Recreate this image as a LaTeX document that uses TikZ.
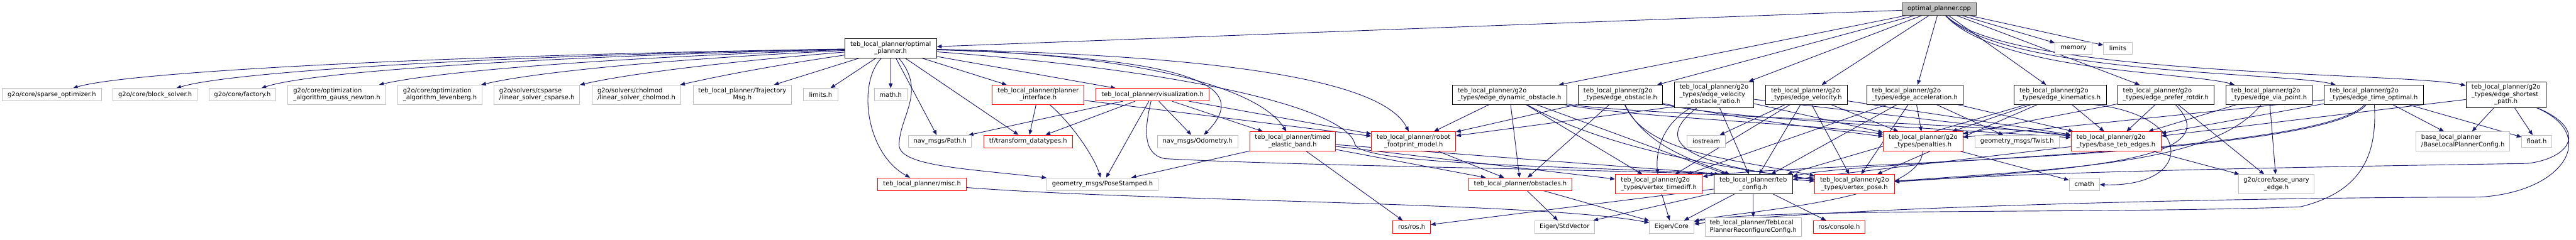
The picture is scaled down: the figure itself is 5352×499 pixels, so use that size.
\documentclass[tikz,border=0pt]{standalone}
\usepackage{fontspec}
\setmainfont{DejaVu Sans}
\usetikzlibrary{arrows.meta,calc}
\pgfdeclarelayer{bg}
\pgfsetlayers{bg,main}
\definecolor{edgec}{HTML}{191970}
\definecolor{grayb}{HTML}{BFBFBF}
\definecolor{redb}{HTML}{FF0000}
\definecolor{rootf}{HTML}{BFBFBF}
\definecolor{rootb}{HTML}{404040}
\newcommand\twol[2]{\begin{tabular}{@{}l@{}}#1\\\multicolumn{1}{@{}c@{}}{#2}\end{tabular}}
\newcommand\thrl[3]{\begin{tabular}{@{}l@{}}#1\\#2\\\multicolumn{1}{@{}c@{}}{#3}\end{tabular}}
\tikzset{
  nd/.style={draw, line width=1.1pt, fill=white, inner sep=0pt, font=\fontsize{13}{15}\selectfont, align=center},
  gn/.style={nd, draw=grayb},
  rn/.style={nd, draw=redb},
  bn/.style={nd, draw=black},
  rootn/.style={nd, draw=rootb, fill=rootf},
  wh/.style 2 args={minimum width=#1pt, minimum height=#2pt},
  e/.style={draw=edgec, line width=1.2pt, -{Triangle[length=10pt,width=8pt]}}
}
\begin{document}
\begin{tikzpicture}[x=1pt,y=-1pt]
\useasboundingbox (0,0) rectangle (5352,499);
% ---------- nodes ----------
\node[rootn, wh={155}{26}] (cpp) at (4029,18.5) {optimal\_planner.cpp};
\node[bn, wh={191}{40}] (oph) at (1850.5,100.5) {\twol{teb\_local\_planner/optimal}{\_planner.h}};
\node[gn, wh={77}{26}] (memory) at (4308,100.5) {memory};
\node[gn, wh={59}{26}] (limits) at (4400,100.5) {limits};
\node[gn, wh={206}{26}] (sparse) at (107.6,197) {g2o/core/sparse\_optimizer.h};
\node[gn, wh={175}{26}] (block) at (322.3,197) {g2o/core/block\_solver.h};
\node[gn, wh={138}{26}] (factory) at (503.7,197) {g2o/core/factory.h};
\node[gn, wh={204}{40}] (gauss) at (699.8,197) {\twol{g2o/core/optimization}{\_algorithm\_gauss\_newton.h}};
\node[gn, wh={176}{40}] (leven) at (914,197) {\twol{g2o/core/optimization}{\_algorithm\_levenberg.h}};
\node[gn, wh={178}{40}] (csparse) at (1115.5,197) {\twol{g2o/solvers/csparse}{/linear\_solver\_csparse.h}};
\node[gn, wh={185}{40}] (cholmod) at (1322.2,197) {\twol{g2o/solvers/cholmod}{/linear\_solver\_cholmod.h}};
\node[gn, wh={205}{40}] (trajmsg) at (1542.3,197) {\twol{teb\_local\_planner/Trajectory}{Msg.h}};
\node[gn, wh={71}{26}] (limitsh) at (1705,197) {limits.h};
\node[gn, wh={68}{26}] (math) at (1850.5,197) {math.h};
\node[rn, wh={191}{40}] (plint) at (2157,197) {\twol{teb\_local\_planner/planner}{\_interface.h}};
\node[rn, wh={236}{26}] (vis) at (2394.5,197) {teb\_local\_planner/visualization.h};
\node[bn, wh={238}{40}] (dynobs) at (3136,197) {\twol{teb\_local\_planner/g2o}{\_types/edge\_dynamic\_obstacle.h}};
\node[bn, wh={175}{40}] (edgeobs) at (3366.5,197) {\twol{teb\_local\_planner/g2o}{\_types/edge\_obstacle.h}};
\node[bn, wh={165}{54}] (velobs) at (3561,197) {\thrl{teb\_local\_planner/g2o}{\_types/edge\_velocity}{\_obstacle\_ratio.h}};
\node[bn, wh={170}{40}] (vel) at (3753,197) {\twol{teb\_local\_planner/g2o}{\_types/edge\_velocity.h}};
\node[bn, wh={200}{40}] (acc) at (3978.3,197) {\twol{teb\_local\_planner/g2o}{\_types/edge\_acceleration.h}};
\node[bn, wh={192}{40}] (kin) at (4280,197) {\twol{teb\_local\_planner/g2o}{\_types/edge\_kinematics.h}};
\node[bn, wh={200}{40}] (rotdir) at (4499.7,197) {\twol{teb\_local\_planner/g2o}{\_types/edge\_prefer\_rotdir.h}};
\node[bn, wh={180}{40}] (via) at (4714.3,197) {\twol{teb\_local\_planner/g2o}{\_types/edge\_via\_point.h}};
\node[bn, wh={206}{40}] (timeopt) at (4931.8,197) {\twol{teb\_local\_planner/g2o}{\_types/edge\_time\_optimal.h}};
\node[bn, wh={166}{54}] (shortest) at (5206.5,197) {\thrl{teb\_local\_planner/g2o}{\_types/edge\_shortest}{\_path.h}};
\node[gn, wh={131}{25}] (path) at (1953,294) {nav\_msgs/Path.h};
\node[rn, wh={184}{26}] (tfdt) at (2136,294) {tf/transform\_datatypes.h};
\node[gn, wh={167}{26}] (odom) at (2488,294) {nav\_msgs/Odometry.h};
\node[rn, wh={178}{40}] (teb) at (2685.4,294) {\twol{teb\_local\_planner/timed}{\_elastic\_band.h}};
\node[rn, wh={175}{40}] (robot) at (2937,294) {\twol{teb\_local\_planner/robot}{\_footprint\_model.h}};
\node[gn, wh={80}{25}] (iostream) at (3545,294) {iostream};
\node[rn, wh={165}{40}] (pen) at (3995.5,294) {\twol{teb\_local\_planner/g2o}{\_types/penalties.h}};
\node[gn, wh={176}{25}] (twist) at (4190.7,294) {geometry\_msgs/Twist.h};
\node[rn, wh={187}{40}] (base) at (4396.2,294) {\twol{teb\_local\_planner/g2o}{\_types/base\_teb\_edges.h}};
\node[gn, wh={195}{40}] (blpc) at (5117,294) {\twol{base\_local\_planner}{/BaseLocalPlannerConfig.h}};
\node[gn, wh={62}{25}] (floath) at (5270.4,294) {float.h};
\node[rn, wh={184}{26}] (misc) at (1915.7,383) {teb\_local\_planner/misc.h};
\node[gn, wh={231}{26}] (pose) at (2290.5,383) {geometry\_msgs/PoseStamped.h};
\node[rn, wh={215}{26}] (obst) at (3158.7,383) {teb\_local\_planner/obstacles.h};
\node[rn, wh={181}{40}] (vtd) at (3446.4,383) {\twol{teb\_local\_planner/g2o}{\_types/vertex\_timediff.h}};
\node[bn, wh={163}{40}] (cfg) at (3642.6,383) {\twol{teb\_local\_planner/teb}{\_config.h}};
\node[rn, wh={165}{40}] (vpose) at (3853,383) {\twol{teb\_local\_planner/g2o}{\_types/vertex\_pose.h}};
\node[gn, wh={63}{26}] (cmath) at (4330.5,383) {cmath};
\node[gn, wh={157}{40}] (unary) at (4729.4,383) {\twol{g2o/core/base\_unary}{\_edge.h}};
\node[rn, wh={78}{26}] (ros) at (2933,472) {ros/ros.h};
\node[gn, wh={124}{26}] (stdvec) at (3250.5,472) {Eigen/StdVector};
\node[gn, wh={92}{26}] (core) at (3473,472) {Eigen/Core};
\node[gn, wh={200}{40}] (reconf) at (3642.5,472) {\twol{teb\_local\_planner/TebLocal}{PlannerReconfigureConfig.h}};
\node[rn, wh={108}{26}] (console) at (3821,472) {ros/console.h};
% ---------- edges ----------
\begin{pgfonlayer}{bg}
\fill[white] (0,0) rectangle (5352,499);
% optimal_planner.cpp
\draw[e] (cpp) -- (oph);
\draw[e] (cpp) -- (memory);
\draw[e] (cpp) -- (limits);
\draw[e] (cpp) -- (dynobs);
\draw[e] (cpp) -- (edgeobs);
\draw[e] (cpp) -- (velobs);
\draw[e] (cpp) -- (vel);
\draw[e] (cpp) -- (acc);
\draw[e] (cpp) -- (kin);
\draw[e] (cpp) -- (rotdir);
\draw[e] (cpp) .. controls (4150,150) and (4550,150) .. (via);
\draw[e] (cpp) .. controls (4160,155) and (4750,150) .. (timeopt);
\draw[e] (cpp) .. controls (4170,160) and (5000,150) .. (shortest);
% optimal_planner.h
\draw[e] (oph) .. controls (900,115) and (260,150) .. (sparse);
\draw[e] (oph) .. controls (1000,116) and (475,150) .. (block);
\draw[e] (oph) .. controls (1100,118) and (640,150) .. (factory);
\draw[e] (oph) .. controls (1250,120) and (900,150) .. (gauss);
\draw[e] (oph) .. controls (1400,122) and (1110,150) .. (leven);
\draw[e] (oph) .. controls (1550,125) and (1320,150) .. (csparse);
\draw[e] (oph) .. controls (1650,130) and (1530,150) .. (cholmod);
\draw[e] (oph) -- (trajmsg);
\draw[e] (oph) -- (limitsh);
\draw[e] (oph) -- (math);
\draw[e] (oph) .. controls (1780,175) and (1800,320) .. (misc);
\draw[e] (oph) .. controls (1925,190) and (1870,240) .. (1868,300) .. controls (1866,345) and (2000,350) .. (pose);
\draw[e] (oph) -- (path);
\draw[e] (oph) -- (tfdt);
\draw[e] (oph) -- (plint);
\draw[e] (oph) -- (vis);
\draw[e] (oph) .. controls (2450,120) and (2610,170) .. (odom);
\draw[e] (oph) .. controls (2400,115) and (2620,190) .. (teb);
\draw[e] (oph) .. controls (2500,115) and (2870,160) .. (robot);
\draw[e] (oph) .. controls (2500,150) and (2800,230) .. (2815,300) .. controls (2830,345) and (3300,345) .. ($(cfg.north west)+(12,0)$);
% planner_interface.h
\draw[e] (plint) -- (tfdt);
\draw[e] (plint) .. controls (2230,260) and (2275,330) .. (pose);
\draw[e] (plint) -- (robot);
% visualization.h
\draw[e] (vis) -- (path);
\draw[e] (vis) -- (tfdt);
\draw[e] (vis) -- (pose);
\draw[e] (vis) -- (odom);
\draw[e] (vis) -- (teb);
\draw[e] (vis) -- (robot);
\draw[e] (vis) .. controls (2380,260) and (2370,320) .. (2420,330) .. controls (2700,345) and (3300,352) .. ($(cfg.north west)+(4,0)$);
% timed_elastic_band.h and others
\draw[e] (teb) -- (ros);
\draw[e] (teb) -- (pose);
\draw[e] (teb) -- (obst);
\draw[e] (teb) -- (vtd);
\draw[e] (teb) -- (vpose);
\draw[e] (robot) -- (obst);
\draw[e] (obst) -- (stdvec);
\draw[e] (obst) -- (core);
\draw[e] (misc) .. controls (2400,420) and (3200,420) .. (core);
\draw[e] (vtd) -- (core);
\draw[e] (cfg) -- (ros);
\draw[e] (cfg) -- (stdvec);
\draw[e] (cfg) -- (core);
\draw[e] (cfg) -- (reconf);
\draw[e] (cfg) -- (console);
\draw[e] (pen) -- (cmath);
\draw[e] (pen) .. controls (3990,420) and (3600,440) .. (core);
\draw[e] (base) -- (cfg);
\draw[e] (base) -- (unary);
% edge_velocity.h
\draw[e] (vel) -- (iostream);
\draw[e] (vel) -- (vtd);
\draw[e] (vel) -- (cfg);
\draw[e] (vel) -- (vpose);
\draw[e] (vel) -- (pen);
\draw[e] (vel) -- (base);
% edge_velocity_obstacle_ratio.h
\draw[e] ($(velobs.south west)+(3,-3)$) -- (robot);
\draw[e] (velobs) .. controls (3450,260) and (3440,320) .. (vtd);
\draw[e] (velobs) .. controls (3440,290) and (3480,340) .. (vpose);
\draw[e] (velobs) -- (cfg);
\draw[e] (velobs) -- (pen);
\draw[e] (velobs) -- (base);
% edge_acceleration.h
\draw[e] (acc) -- (twist);
\draw[e] (acc) -- (pen);
\draw[e] (acc) -- (base);
\draw[e] (acc) -- (vpose);
\draw[e] (acc) -- (vtd);
\draw[e] (acc) -- (cfg);
% edge_kinematics.h
\draw[e] (kin) -- (pen);
\draw[e] (kin) -- (base);
\draw[e] ($(kin.south)+(70,0)$) .. controls (4560,240) and (4560,390) .. (cmath);
\draw[e] (kin) -- (vpose);
\draw[e] (kin) -- (cfg);
% edge_prefer_rotdir.h
\draw[e] (rotdir) -- (pen);
\draw[e] (rotdir) -- (base);
\draw[e] (rotdir) -- (unary);
\draw[e] (rotdir) .. controls (4620,320) and (4400,350) .. (vpose);
% edge_via_point.h
\draw[e] (via) -- (base);
\draw[e] (via) -- (unary);
\draw[e] (via) .. controls (4600,340) and (4300,350) .. (vpose);
% edge_time_optimal.h
\draw[e] (timeopt) -- (blpc);
\draw[e] (timeopt) -- (floath);
\draw[e] (timeopt) -- (pen);
\draw[e] (timeopt) -- (base);
\draw[e] (timeopt) .. controls (4830,330) and (3700,340) .. (vtd);
\draw[e] (timeopt) .. controls (4820,320) and (3900,330) .. (cfg);
\draw[e] (timeopt) .. controls (4940,330) and (4900,400) .. (4780,430) .. controls (4400,445) and (3650,432) .. (core);
% edge_shortest_path.h
\draw[e] (shortest) -- (blpc);
\draw[e] (shortest) -- (floath);
\draw[e] (shortest) -- (base);
\draw[e] (shortest) .. controls (5380,270) and (5340,330) .. (5250,340) .. controls (4600,350) and (4200,360) .. (vpose);
\draw[e] (shortest) .. controls (5400,280) and (5330,400) .. (5150,410) .. controls (4700,410) and (3800,430) .. (core);
% edge_obstacle.h
\draw[e] (edgeobs) -- (robot);
\draw[e] (edgeobs) -- (obst);
\draw[e] (edgeobs) .. controls (3420,320) and (3600,330) .. (vpose);
\draw[e] (edgeobs) .. controls (3600,250) and (4100,270) .. (base);
\draw[e] (edgeobs) .. controls (3600,245) and (3800,270) .. (pen);
\draw[e] (edgeobs) .. controls (3420,310) and (3540,340) .. (cfg);
% edge_dynamic_obstacle.h
\draw[e] (dynobs) -- (robot);
\draw[e] (dynobs) -- (obst);
\draw[e] (dynobs) -- (vtd);
\draw[e] (dynobs) -- (cfg);
\draw[e] (dynobs) .. controls (3300,290) and (3500,340) .. (vpose);
\draw[e] (dynobs) .. controls (3400,245) and (3800,260) .. (pen);
\draw[e] (dynobs) .. controls (3400,240) and (4100,255) .. (base);
\end{pgfonlayer}
\end{tikzpicture}
\end{document}
